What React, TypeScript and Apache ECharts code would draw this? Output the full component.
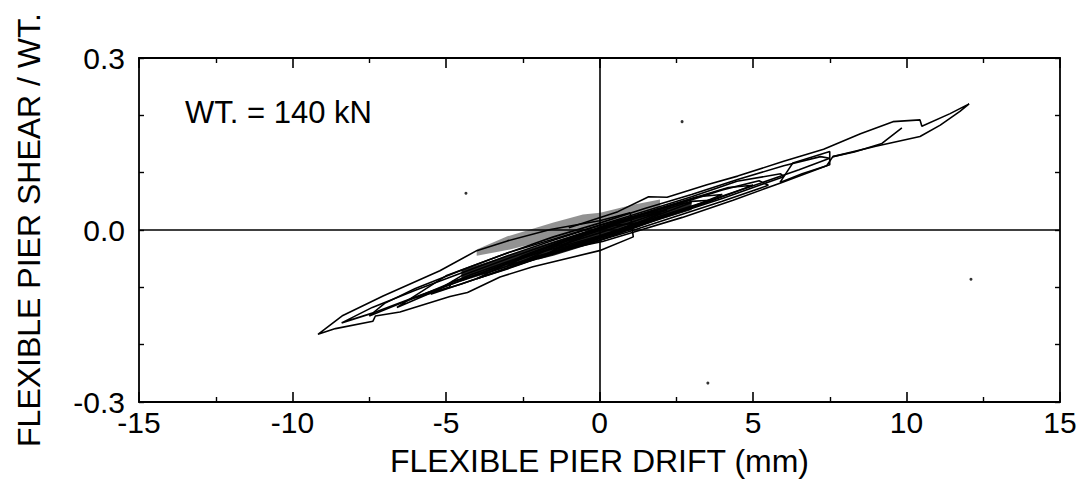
import React, { useEffect, useRef } from "react";
import * as echarts from "echarts";

// ---- axis setup ----
const X_MIN = -15;
const X_MAX = 15;
const X_STEP = 5;
const Y_MIN = -0.3;
const Y_MAX = 0.3;
const Y_STEP = 0.1;
const yLabelled = ["-0.3", "0.0", "0.3"];
const xTitle = "FLEXIBLE PIER DRIFT (mm)";
const yTitle = "FLEXIBLE PIER SHEAR / WT.";
const noteText = "WT. = 140 kN";

// ---- hysteresis loops [drift mm, shear / WT] ----
const loopPos12 = [
  [-1.0, -0.032], [0.1, -0.02], [1.1, -0.004], [2.7, 0.022], [4.35, 0.052], [5.9, 0.082],
  [7.4, 0.112], [7.6, 0.128], [9.0, 0.146], [10.44, 0.163], [11.1, 0.183], [11.74, 0.207],
  [12.04, 0.22], [11.42, 0.203], [10.5, 0.181], [10.44, 0.192], [9.56, 0.189], [8.5, 0.168],
  [7.3, 0.141], [6.0, 0.12], [4.5, 0.094], [3.5, 0.079], [2.2, 0.057], [1.6, 0.058],
  [0.6, 0.032], [-1.0, 0.004],
];
const hookPos = [
  [7.6, 0.128], [8.3, 0.136], [9.2, 0.151], [9.85, 0.178],
];
const smallLoopPos6 = [
  [5.88, 0.083], [6.3, 0.117], [7.5, 0.137], [7.5, 0.114], [6.6, 0.098], [5.88, 0.083],
];
const loopNeg9 = [
  [1.0, 0.030], [0.0, 0.016], [-1.6, 0.001], [-3.0, -0.019], [-4.0, -0.036], [-5.2, -0.071],
  [-7.05, -0.115], [-8.36, -0.149], [-9.17, -0.182], [-8.6, -0.172], [-7.38, -0.159],
  [-7.3, -0.150], [-6.5, -0.143], [-4.87, -0.116], [-4.3, -0.109], [-3.24, -0.082],
  [-2.17, -0.064], [0.0, -0.036], [1.1, -0.012], [1.0, 0.030],
];
const loopNeg84 = [
  [-8.4, -0.162], [-7.4, -0.145], [-6.0, -0.117], [-4.5, -0.088], [-3.0, -0.058],
  [-1.5, -0.030], [0.0, -0.005], [1.5, 0.022], [2.2, 0.035], [1.4, 0.028], [0.0, 0.008],
  [-1.5, -0.018], [-3.0, -0.045], [-4.5, -0.075], [-6.0, -0.105], [-7.4, -0.135], [-8.4, -0.162],
];
const loop75 = [
  [-7.5, -0.150], [-6.5, -0.128], [-5.0, -0.098], [-3.5, -0.068], [-2.0, -0.040], [0.0, -0.010],
  [2.0, 0.025], [3.5, 0.050], [5.0, 0.077], [6.5, 0.105], [7.5, 0.125], [7.2, 0.128],
  [6.0, 0.112], [4.5, 0.088], [3.0, 0.062], [1.5, 0.038], [0.0, 0.012], [-1.5, -0.012],
  [-3.0, -0.040], [-4.5, -0.070], [-6.0, -0.102], [-7.0, -0.128], [-7.5, -0.150],
];
const loop6 = [
  [-6.6, -0.135], [-5.5, -0.110], [-4.9, -0.100], [-4.8, -0.090], [-3.5, -0.072], [-2.0, -0.045],
  [0.0, -0.018], [2.0, 0.020], [4.0, 0.055], [6.0, 0.093], [5.9, 0.098], [4.48, 0.085],
  [3.0, 0.058], [1.0, 0.025], [-1.0, -0.008], [-3.0, -0.040], [-5.0, -0.080], [-6.6, -0.135],
];
const loop6b = [
  [-6.0, -0.118], [-4.5, -0.094], [-3.0, -0.066], [-1.5, -0.038], [0.0, -0.014], [1.5, 0.014],
  [2.8, 0.036], [3.6, 0.052], [3.0, 0.050], [1.8, 0.030], [0.4, 0.008], [-1.0, -0.018],
  [-2.6, -0.048], [-4.2, -0.078], [-6.0, -0.118],
];
const loop55 = [
  [-2.0, -0.050], [-0.5, -0.026], [1.0, -0.002], [2.5, 0.024], [4.0, 0.050], [5.5, 0.078],
  [5.2, 0.086], [4.0, 0.070], [2.6, 0.046], [1.2, 0.024], [-0.4, -0.004], [-2.0, -0.050],
];
const loop5 = [
  [-5.5, -0.112], [-4.0, -0.085], [-2.5, -0.058], [-1.0, -0.030], [0.5, -0.005], [2.0, 0.022],
  [3.5, 0.048], [5.0, 0.078], [4.2, 0.074], [3.0, 0.055], [1.5, 0.030], [0.0, 0.005],
  [-1.5, -0.022], [-3.0, -0.050], [-4.5, -0.080], [-5.5, -0.112],
];
const loop4 = [
  [-4.0, -0.085], [-3.0, -0.068], [-1.5, -0.040], [0.0, -0.015], [1.5, 0.012], [3.0, 0.040],
  [4.0, 0.062], [3.2, 0.058], [2.0, 0.038], [0.5, 0.012], [-1.0, -0.015], [-2.5, -0.045],
  [-4.0, -0.085],
];
const loop3 = [
  [-3.0, -0.062], [-2.0, -0.048], [-1.0, -0.030], [0.0, -0.012], [1.0, 0.008], [2.0, 0.028],
  [3.0, 0.048], [2.4, 0.045], [1.2, 0.025], [0.0, 0.003], [-1.2, -0.020], [-2.2, -0.040],
  [-3.0, -0.062],
];
const loop2 = [
  [-2.5, -0.055], [-1.5, -0.038], [-0.5, -0.020], [0.5, -0.002], [1.5, 0.018], [2.0, 0.030],
  [1.2, 0.022], [0.0, 0.002], [-1.2, -0.022], [-2.5, -0.055],
];
const loop1 = [
  [-1.5, -0.035], [-0.5, -0.020], [0.5, -0.002], [1.2, 0.012], [0.5, 0.008], [-0.5, -0.010],
  [-1.5, -0.035],
];
// stippled (grey) region above the core, and the solid dark core
const shadedRegion = [
  [-4.0, -0.034], [-3.0, -0.011], [-1.5, 0.013], [-0.54, 0.027], [0.02, 0.030], [1.09, 0.044],
  [1.97, 0.053], [1.97, 0.035], [0.0, 0.005], [-1.5, -0.015], [-3.0, -0.035], [-4.0, -0.045],
];
const denseCore = [
  [-4.5, -0.070], [-3.0, -0.045], [-1.5, -0.020], [0.0, 0.005], [1.5, 0.030], [3.0, 0.050],
  [3.0, 0.035], [1.5, 0.010], [0.0, -0.020], [-1.5, -0.045], [-3.0, -0.065], [-4.5, -0.090],
];
const strayDots = [
  [-4.35, 0.064], [2.69, 0.189], [12.1, -0.086], [3.53, -0.267],
];

const loops = [
  loopPos12, hookPos, smallLoopPos6, loopNeg9, loopNeg84, loop75, loop6, loop6b, loop55,
  loop5, loop4, loop3, loop2, loop1,
];

const FONT = "'Liberation Sans', Arial, Helvetica, sans-serif";

function polygonSeries(points: number[][], fill: string, opacity: number) {
  return {
    type: "custom",
    xAxisIndex: 0,
    yAxisIndex: 0,
    silent: true,
    data: points,
    renderItem: (params: any, api: any) => {
      if (params.dataIndex !== 0) return null;
      const pts = points.map((p) => api.coord(p));
      return {
        type: "polygon",
        shape: { points: pts },
        style: { fill, opacity },
      };
    },
  };
}

export default function App() {
  const ref = useRef<HTMLDivElement>(null);

  useEffect(() => {
    if (!ref.current) return;
    const chart = echarts.init(ref.current, null, { renderer: "svg" });

    const baseX = {
      type: "value",
      min: X_MIN,
      max: X_MAX,
      interval: X_STEP,
      splitLine: { show: false },
      axisLine: { show: true, onZero: false, lineStyle: { color: "#000", width: 1.8 } },
      axisTick: { show: true, inside: true, length: 10, lineStyle: { color: "#000", width: 1.6 } },
      minorTick: { show: true, splitNumber: 2, length: 5, lineStyle: { color: "#000", width: 1.4 } },
    };
    const baseY = {
      type: "value",
      min: Y_MIN,
      max: Y_MAX,
      interval: Y_STEP,
      splitLine: { show: false },
      axisLine: { show: true, onZero: false, lineStyle: { color: "#000", width: 1.8 } },
      axisTick: { show: true, inside: true, length: 5, lineStyle: { color: "#000", width: 1.4 } },
    };

    const lineSeries = loops.map((d) => ({
      type: "line",
      data: d,
      showSymbol: false,
      symbol: "none",
      smooth: false,
      silent: true,
      lineStyle: { color: "#000", width: 1.6 },
    }));

    chart.setOption({
      animation: false,
      backgroundColor: "#fff",
      grid: { left: 139, right: 20, top: 58, bottom: 79, containLabel: false },
      xAxis: [
        {
          ...baseX,
          position: "bottom",
          name: xTitle,
          nameLocation: "middle",
          nameGap: 43,
          nameTextStyle: { fontFamily: FONT, fontSize: 32, color: "#000" },
          axisLabel: {
            show: true,
            margin: 5,
            fontFamily: FONT,
            fontSize: 30,
            color: "#000",
            formatter: (v: number) => String(Math.round(v)),
          },
        },
        { ...baseX, position: "top", axisLabel: { show: false } },
      ],
      yAxis: [
        {
          ...baseY,
          position: "left",
          name: yTitle,
          nameLocation: "middle",
          nameGap: 94,
          nameRotate: 90,
          nameTextStyle: { fontFamily: FONT, fontSize: 32, color: "#000" },
          axisLabel: {
            show: true,
            margin: 14,
            fontFamily: FONT,
            fontSize: 30,
            color: "#000",
            showMinLabel: true,
            showMaxLabel: true,
            formatter: (v: number) => {
              const s = (Math.abs(v) < 1e-9 ? 0 : v).toFixed(1);
              return yLabelled.includes(s) ? s : "";
            },
          },
        },
        { ...baseY, position: "right", axisLabel: { show: false } },
      ],
      graphic: [
        {
          type: "text",
          left: 185,
          top: 97,
          style: { text: noteText, fontFamily: FONT, fontSize: 31, fill: "#000" },
        },
      ],
      series: [
        {
          type: "line",
          data: [],
          silent: true,
          markLine: {
            silent: true,
            symbol: ["none", "none"],
            label: { show: false },
            lineStyle: { color: "#000", width: 1.6, type: "solid" },
            data: [{ xAxis: 0 }, { yAxis: 0 }],
          },
        },
        polygonSeries(shadedRegion, "#6e6e6e", 0.75),
        polygonSeries(denseCore, "#000", 0.85),
        ...lineSeries,
        {
          type: "scatter",
          data: strayDots,
          symbolSize: 3,
          silent: true,
          itemStyle: { color: "#000" },
        },
      ],
    });

    return () => chart.dispose();
  }, []);

  return (
    <div
      ref={ref}
      style={{ position: "fixed", left: 0, top: 0, width: 1080, height: 482, background: "#fff" }}
    />
  );
}
